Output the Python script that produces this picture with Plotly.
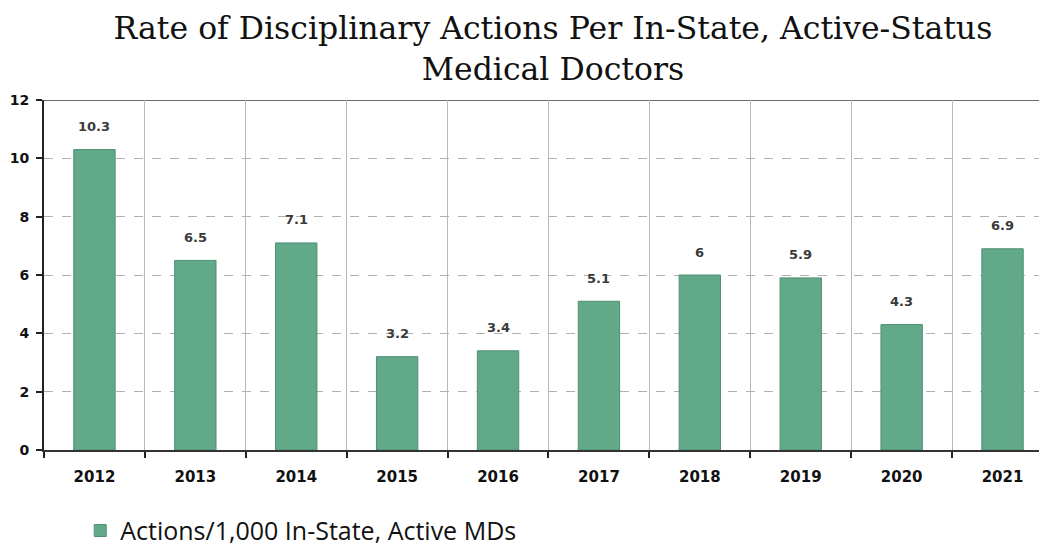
import plotly.graph_objects as go

years = ["2012", "2013", "2014", "2015", "2016", "2017", "2018", "2019", "2020", "2021"]
rates = [10.3, 6.5, 7.1, 3.2, 3.4, 5.1, 6.0, 5.9, 4.3, 6.9]
labels = ["10.3", "6.5", "7.1", "3.2", "3.4", "5.1", "6", "5.9", "4.3", "6.9"]
y_ticks = [0, 2, 4, 6, 8, 10, 12]

fig = go.Figure()
fig.add_trace(go.Bar(
    x=years, y=rates, name="Actions/1,000 In-State, Active MDs",
    marker=dict(color="#62a98a", line=dict(color="#4f8f72", width=1)),
    width=0.41,
))

for i, (v, t) in enumerate(zip(rates, labels)):
    fig.add_annotation(x=i, y=v, xref="x", yref="y", text=t, showarrow=False, yshift=23,
                       font=dict(family="DejaVu Sans", size=13, color="#3a3a3a", weight="bold"))

fig.add_shape(type="line", xref="paper", yref="y", x0=0, x1=1, y0=12, y1=12,
              line=dict(color="#6a6a6a", width=2), layer="below")

fig.update_layout(
    width=1047, height=548,
    margin=dict(l=36, r=0, t=92, b=106, autoexpand=False),
    paper_bgcolor="white", plot_bgcolor="white",
    title=dict(text="Rate of Disciplinary Actions Per In-State, Active-Status<br>Medical Doctors",
               x=0.5205, xanchor="center", y=0.944, yanchor="middle",
               font=dict(family="DejaVu Serif", size=31.5, color="#111111")),
    showlegend=True,
    legend=dict(orientation="h", xref="container", yref="container", x=0.069, y=0.046,
                xanchor="left", yanchor="middle",
                font=dict(family="Open Sans", size=25, color="#111111")),
    bargap=0.59,
)
fig.update_xaxes(type="category", range=[-0.5, 9.52], tickson="boundaries",
                 showgrid=True, gridcolor="#b8b8b8", gridwidth=1,
                 ticks="outside", ticklen=6, tickcolor="#222", tickwidth=2,
                 showline=True, linecolor="#333", linewidth=2, ticklabelstandoff=12,
                 tickfont=dict(family="DejaVu Sans", size=15, color="#111", weight="bold"))
fig.update_yaxes(range=[0, 12], tickvals=y_ticks, showgrid=True, gridcolor="#b0b0b0",
                 griddash="dash", gridwidth=1, zeroline=False,
                 ticks="outside", ticklen=6, tickcolor="#222", tickwidth=2,
                 showline=True, linecolor="#222", linewidth=2, ticklabelstandoff=4,
                 tickfont=dict(family="DejaVu Sans", size=14, color="#111", weight="bold"))

fig.write_html("out.html")
